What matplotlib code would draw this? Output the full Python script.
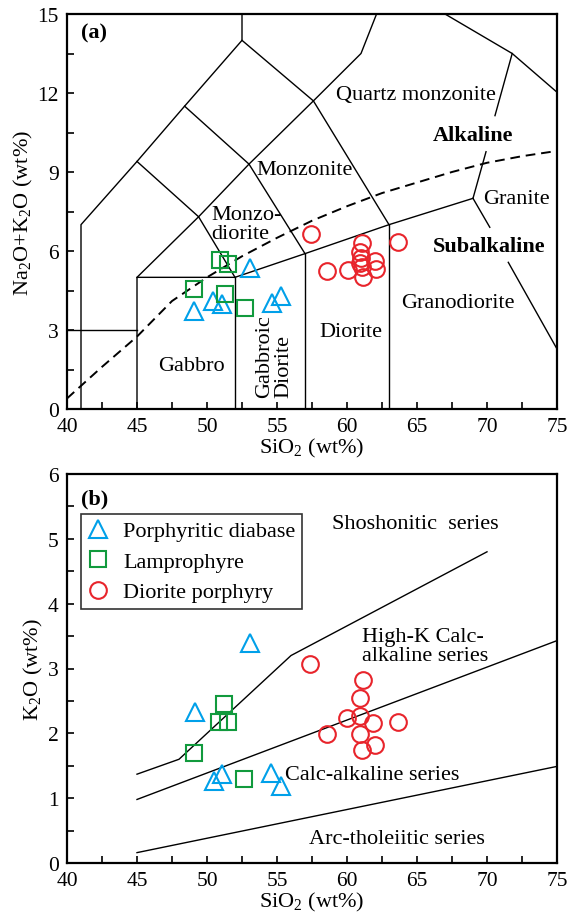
import matplotlib
matplotlib.use("Agg")
import matplotlib.pyplot as plt
from matplotlib.ticker import MultipleLocator

plt.rcParams['font.family'] = ['Liberation Serif', 'DejaVu Serif']
plt.rcParams['mathtext.fontset'] = 'custom'
plt.rcParams['mathtext.rm'] = 'Liberation Serif'

# --- sample data ---
# (a) TAS: SiO2 vs Na2O+K2O
dia_sio2_a = [49.1, 50.45, 51.1, 53.05, 54.65, 55.3]
dia_alk = [3.73, 4.11, 3.99, 5.34, 4.03, 4.30]
lam_sio2_a = [49.1, 50.9, 51.5, 51.25, 52.7]
lam_alk = [4.56, 5.67, 5.51, 4.37, 3.82]
dp_sio2_a = [57.4, 58.6, 60.05, 60.93, 60.98, 60.93, 61.1, 61.05, 62.0, 62.1, 63.65, 61.12]
dp_alk = [6.66, 5.23, 5.27, 5.95, 5.72, 5.55, 6.32, 5.38, 5.63, 5.33, 6.36, 5.02]

# (b) SiO2 vs K2O
dia_sio2_b = [53.07, 49.14, 50.52, 51.1, 54.55, 55.29]
dia_k2o = [3.40, 2.33, 1.26, 1.37, 1.39, 1.18]
lam_sio2_b = [51.21, 50.86, 51.52, 49.1, 52.67]
lam_k2o = [2.45, 2.17, 2.17, 1.70, 1.29]
dp_sio2_b = [57.36, 61.12, 60.93, 59.98, 60.93, 61.88, 63.62, 58.55, 60.93, 62.0, 61.05]
dp_k2o = [3.07, 2.83, 2.54, 2.23, 2.26, 2.16, 2.18, 1.99, 1.99, 1.82, 1.75]

# --- classification boundaries ---
tas_lines = [
    [(41, 0), (41, 7), (45, 9.4), (48.4, 11.5), (52.5, 14), (52.5, 15)],
    [(40, 3), (45, 3)],
    [(45, 0), (45, 5), (52, 5), (57, 5.9), (63, 7), (69, 8)],
    [(52, 0), (52, 5)],
    [(57, 0), (57, 5.9)],
    [(63, 0), (63, 7)],
    [(45, 5), (49.4, 7.3), (52, 5)],
    [(45, 9.4), (49.4, 7.3), (53, 9.3), (57, 5.9)],
    [(48.4, 11.5), (53, 9.3), (57.6, 11.7), (63, 7)],
    [(52.5, 14), (57.6, 11.7), (61, 13.5), (63, 16.2)],
    [(67, 15), (71.8, 13.5), (75, 12.03)],
    [(69, 8), (69.93, 9.77)],
    [(70.57, 11.14), (71.8, 13.5)],
    [(69, 8), (70.2, 6.9)],
    [(71.52, 5.57), (75, 2.28)],
]
# alkaline / subalkaline divide
ib_sio2 = [40, 42.5, 45, 47.5, 50, 52.5, 55, 57.5, 60, 62.5, 65, 67.5, 70, 72.5, 75]
ib_alk = [0.4, 1.6, 2.75, 4.1, 5.0, 5.8, 6.5, 7.15, 7.7, 8.2, 8.6, 9.0, 9.35, 9.6, 9.8]

k2o_lines = [
    [(45, 1.37), (48, 1.6), (56, 3.2), (70, 4.8)],
    [(45, 0.98), (75, 3.43)],
    [(45, 0.16), (75, 1.49)],
]

blue = '#00a0e9'
green = '#119a3d'
red = '#e8242b'
fs = 16


def style_axes(ax, ymax, ymaj, ymin):
    ax.set_xlim(40, 75)
    ax.set_ylim(0, ymax)
    ax.xaxis.set_major_locator(MultipleLocator(5))
    ax.xaxis.set_minor_locator(MultipleLocator(2.5))
    ax.yaxis.set_major_locator(MultipleLocator(ymaj))
    ax.yaxis.set_minor_locator(MultipleLocator(ymin))
    ax.tick_params(which='both', direction='in', length=5, width=1.2,
                   top=False, right=False, labelsize=15.5, pad=6)
    for sp in ax.spines.values():
        sp.set_linewidth(1.6)
    ax.set_xlabel(r'SiO$_\mathrm{2}$ (wt%)', fontsize=fs, labelpad=0)


def draw_samples(ax, sx, sy, lx, ly, cx, cy):
    kw = dict(ls='none', mfc='none', mew=1.5, zorder=5)
    ax.plot(sx, sy, marker='^', ms=13.5, mec=blue, label='Porphyritic diabase', **kw)
    ax.plot(lx, ly, marker='s', ms=12, mec=green, label='Lamprophyre', **kw)
    ax.plot(cx, cy, marker='o', ms=12, mec=red, label='Diorite porphyry', **kw)


fig = plt.figure(figsize=(5.69, 9.2), dpi=100)
ax1 = fig.add_axes([67 / 569, 510 / 920, 490 / 569, 395 / 920])
ax2 = fig.add_axes([67 / 569, 56 / 920, 490 / 569, 389 / 920])

# (a) TAS diagram
for seg in tas_lines:
    xs, ys = zip(*seg)
    ax1.plot(xs, ys, color='black', lw=1.0, zorder=2)
ax1.plot(ib_sio2, ib_alk, color='black', lw=1.4, ls=(0, (5, 3)), zorder=2)
draw_samples(ax1, dia_sio2_a, dia_alk, lam_sio2_a, lam_alk, dp_sio2_a, dp_alk)
style_axes(ax1, 15, 3, 1.5)
ax1.set_ylabel(r'Na$_\mathrm{2}$O+K$_\mathrm{2}$O (wt%)', fontsize=fs, labelpad=2)

ax1.text(41.9, 14.3, '(a)', fontsize=fs, fontweight='bold', ha='center', va='center')
ax1.text(64.9, 11.93, 'Quartz monzonite', fontsize=fs, ha='center', va='center')
ax1.text(69.0, 10.4, 'Alkaline', fontsize=fs, fontweight='bold', ha='center', va='center')
ax1.text(57.0, 9.09, 'Monzonite', fontsize=fs, ha='center', va='center')
ax1.text(72.1, 8.01, 'Granite', fontsize=fs, ha='center', va='center')
ax1.text(50.33, 7.03, 'Monzo-\ndiorite', fontsize=fs, ha='left', va='center', linespacing=1.0)
ax1.text(70.15, 6.18, 'Subalkaline', fontsize=fs, fontweight='bold', ha='center', va='center')
ax1.text(67.9, 4.03, 'Granodiorite', fontsize=fs, ha='center', va='center')
ax1.text(60.3, 2.94, 'Diorite', fontsize=fs, ha='center', va='center')
ax1.text(48.9, 1.65, 'Gabbro', fontsize=fs, ha='center', va='center')
ax1.text(54.8, 2.03, 'Gabbroic\nDiorite', fontsize=fs, rotation=90, ha='center', va='center',
         multialignment='left', linespacing=1.0)

# (b) K2O vs SiO2
for seg in k2o_lines:
    xs, ys = zip(*seg)
    ax2.plot(xs, ys, color='black', lw=1.0, zorder=2)
draw_samples(ax2, dia_sio2_b, dia_k2o, lam_sio2_b, lam_k2o, dp_sio2_b, dp_k2o)
style_axes(ax2, 6, 1, 0.5)
ax2.set_ylabel(r'K$_\mathrm{2}$O (wt%)', fontsize=fs, labelpad=2)

ax2.text(42.0, 5.63, '(b)', fontsize=fs, fontweight='bold', ha='center', va='center')
ax2.text(58.9, 5.24, 'Shoshonitic  series', fontsize=fs, ha='left', va='center')
ax2.text(61.1, 3.34, 'High-K Calc-\nalkaline series', fontsize=fs, ha='left', va='center',
         linespacing=1.0)
ax2.text(55.6, 1.37, 'Calc-alkaline series', fontsize=fs, ha='left', va='center')
ax2.text(57.3, 0.38, 'Arc-tholeiitic series', fontsize=fs, ha='left', va='center')

leg = ax2.legend(loc='upper left', bbox_to_anchor=(0.028, 0.897), borderaxespad=0,
                 fontsize=fs, frameon=True, fancybox=False, handlelength=1.0,
                 handletextpad=0.6, labelspacing=0.45, borderpad=0.3)
leg.get_frame().set_edgecolor('black')
leg.get_frame().set_linewidth(1.2)

fig.savefig('out.png', dpi=100)
